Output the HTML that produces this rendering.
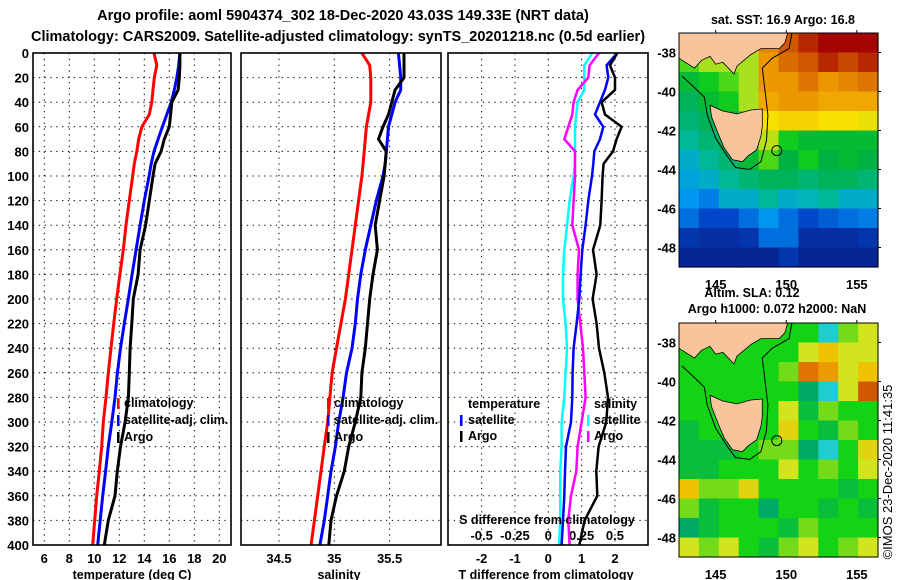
<!DOCTYPE html>
<html><head><meta charset="utf-8"><style>
html,body{margin:0;padding:0;background:#fff}
svg{display:block}
text{font-family:"Liberation Sans",sans-serif;font-weight:bold;fill:#000}
text.thin{font-weight:normal}
</style></head><body>
<svg id="c" width="900" height="580" viewBox="0 0 900 580" xmlns="http://www.w3.org/2000/svg">
<text x="343" y="20" font-size="14.5" text-anchor="middle">Argo profile: aoml 5904374_302 18-Dec-2020 43.03S 149.33E (NRT data)</text>
<text x="338" y="41" font-size="14.5" text-anchor="middle">Climatology: CARS2009. Satellite-adjusted climatology: synTS_20201218.nc (0.5d earlier)</text>
<g id="g"></g>
</svg>
<script>
const depths=[0,10,20,30,40,50,60,70,80,90,100,120,140,160,180,200,220,240,260,280,300,320,340,360,380,400];
const tClim=[14.78,15.0,14.8,14.7,14.6,14.4,13.8,13.55,13.4,13.2,13.07,12.8,12.54,12.32,12.05,11.79,11.55,11.34,11.12,10.94,10.72,10.59,10.4,10.19,10.03,9.87];
const tSat=[16.85,16.75,16.6,16.4,16.15,15.8,15.45,15.1,14.78,14.55,14.38,14.0,13.66,13.34,13.02,12.72,12.4,12.1,11.85,11.66,11.4,11.12,10.9,10.67,10.47,10.27];
const tArgo=[16.85,16.85,16.8,16.7,16.2,16.1,16.0,15.6,15.34,14.86,14.7,14.4,14.1,13.66,13.5,13.12,13.0,12.86,12.8,12.73,12.46,12.1,11.84,11.66,11.12,10.8];
const sClim=[35.25,35.32,35.33,35.33,35.33,35.31,35.29,35.28,35.27,35.26,35.25,35.22,35.19,35.16,35.13,35.1,35.06,35.02,34.98,34.96,34.94,34.91,34.88,34.85,34.82,34.79];
const sSat=[35.58,35.59,35.6,35.6,35.55,35.52,35.49,35.48,35.47,35.46,35.44,35.38,35.33,35.28,35.24,35.21,35.19,35.16,35.11,35.08,35.04,35.01,34.97,34.94,34.91,34.87];
const sArgo=[35.63,35.63,35.63,35.55,35.52,35.49,35.44,35.4,35.47,35.46,35.45,35.41,35.37,35.39,35.35,35.32,35.3,35.28,35.25,35.24,35.19,35.13,35.09,35.02,34.97,34.95];
const depthTicks=[0,20,40,60,80,100,120,140,160,180,200,220,240,260,280,300,320,340,360,380,400];
const tempTicks=[6,8,10,12,14,16,18,20];
const salTicks=[34.5,35,35.5];
const tdTicks=[-2,-1,0,1,2];
const sdTicks=[-0.5,-0.25,0,0.25,0.5];
const latTicks=[-38,-40,-42,-44,-46,-48];
const lonTicks=[145,150,155];
const sstGrid=[
[.6,.6,.65,.7,.82,.88,.95,1,1,1],
[.55,.6,.6,.6,.8,.85,.88,.95,.9,.95],
[.45,.5,.55,.6,.8,.8,.84,.8,.82,.84],
[.4,.45,.5,.6,.78,.8,.8,.78,.78,.78],
[.38,.4,.45,.55,.7,.72,.72,.7,.7,.68],
[.35,.38,.4,.5,.62,.5,.45,.45,.45,.45],
[.3,.35,.38,.45,.55,.42,.5,.42,.45,.42],
[.28,.3,.35,.38,.4,.4,.38,.4,.4,.38],
[.25,.22,.3,.3,.35,.3,.32,.35,.3,.3],
[.2,.15,.15,.2,.25,.2,.15,.18,.2,.22],
[.1,.08,.08,.1,.2,.2,.08,.08,.08,.1],
[.05,.05,.05,.05,.05,.1,.05,.05,.05,.05]];
const slaGrid=[
[.5,.5,.5,.5,.5,.5,.5,.3,.55,.6],
[.5,.5,.5,.5,.5,.5,.6,.7,.6,.6],
[.5,.5,.5,.5,.5,.55,.8,.75,.6,.7],
[.5,.5,.5,.5,.5,.5,.4,.3,.6,.85],
[.5,.5,.5,.5,.5,.6,.45,.55,.5,.5],
[.45,.5,.5,.5,.5,.65,.5,.45,.55,.5],
[.45,.45,.45,.5,.55,.55,.4,.3,.5,.65],
[.45,.45,.5,.5,.5,.6,.5,.55,.5,.6],
[.7,.55,.55,.65,.5,.5,.5,.5,.45,.5],
[.55,.45,.5,.5,.4,.5,.5,.45,.5,.45],
[.4,.45,.5,.5,.5,.45,.55,.5,.5,.5],
[.6,.55,.6,.5,.45,.55,.6,.5,.55,.6]];

const NS='http://www.w3.org/2000/svg';
const G=document.getElementById('g');
function el(tag,attrs,parent){const e=document.createElementNS(NS,tag);for(const k in attrs)e.setAttribute(k,attrs[k]);(parent||G).appendChild(e);return e;}
function txt(x,y,s,size,anchor,parent){const t=el('text',{x:x,y:y,'font-size':size,'text-anchor':anchor||'middle'},parent);t.textContent=s;return t;}

const Y0=53,Y1=545;
const yD=d=>Y0+d*(Y1-Y0)/400;
const xT=t=>44.3+(t-6)*12.5;
const xS=s=>334.3+(s-35)*110.6;
const xTD=t=>548.3+t*33.33;
const xSD=s=>548.3+s*133.3;

function panel(x0,x1,name,yLabels){
  const g=el('g',{});
  
  
  depthTicks.forEach(d=>{
    const l=el('line',{x1:x0,x2:x1,y1:yD(d),y2:yD(d),stroke:'#000','stroke-width':1,'stroke-dasharray':'1.3,4.5'},g);
    
    
    if(yLabels){const t=txt(29,yD(d)+5,String(d),13,'end',g);
      
      }
  });
  return g;
}
function vgrid(g,x){const l=el('line',{x1:x,x2:x,y1:Y0,y2:Y1,stroke:'#000','stroke-width':1,'stroke-dasharray':'1.3,4.5'},g);
  
  }
function frame(g,x0,x1){const r=el('rect',{x:x0,y:Y0,width:x1-x0,height:Y1-Y0,fill:'none',stroke:'#000','stroke-width':1.6},g);
  
  }
function curve(g,vals,fx,color,w,name){
  const pts=vals.map((v,i)=>fx(v).toFixed(1)+','+yD(depths[i]).toFixed(1)).join(' ');
  const p=el('polyline',{points:pts,fill:'none',stroke:color,'stroke-width':w,'stroke-linejoin':'miter'},g);
  
  
}
function legBar(g,x,y,color,name){const r=el('rect',{x:x,y:y-9,width:2.5,height:11,fill:color},g);
  
  }

let g1=panel(33,231,'temperature-panel',true);
tempTicks.forEach(t=>{vgrid(g1,xT(t));const s=txt(xT(t),563,String(t),13,'middle',g1);
  
  });
curve(g1,tClim,xT,'#f00',3,'temp-climatology-line');
curve(g1,tSat,xT,'#00f',3,'temp-satellite-line');
curve(g1,tArgo,xT,'#000',3,'temp-argo-line');
frame(g1,33,231);
let a=txt(132,579,'temperature (deg C)',12.5,'middle',g1);
legBar(g1,117,407,'#f00','legend-bar-climatology');legBar(g1,117,424,'#00f','legend-bar-satellite');legBar(g1,117,441,'#000','legend-bar-argo');
[['climatology',407],['satellite-adj. clim.',424],['Argo',441]].forEach(([s,y])=>{const t=txt(124,y,s,12.5,'start',g1);});

let g2=panel(241,441,'salinity-panel',false);
salTicks.forEach(t=>{vgrid(g2,xS(t));const s=txt(xS(t),563,String(t),13,'middle',g2);
  
  });
curve(g2,sClim,xS,'#f00',3,'sal-climatology-line');
curve(g2,sSat,xS,'#00f',3,'sal-satellite-line');
curve(g2,sArgo,xS,'#000',3,'sal-argo-line');
frame(g2,241,441);
a=txt(339,579,'salinity',12.5,'middle',g2);
legBar(g2,327,407,'#f00','legend-bar-climatology');legBar(g2,327,424,'#00f','legend-bar-satellite');legBar(g2,327,441,'#000','legend-bar-argo');
[['climatology',407],['satellite-adj. clim.',424],['Argo',441]].forEach(([s,y])=>{const t=txt(334,y,s,12.5,'start',g2);});

let g3=panel(448,648,'difference-panel',false);
tdTicks.forEach(t=>{vgrid(g3,xTD(t));const s=txt(xTD(t),563,String(t),13,'middle',g3);
  
  });
sdTicks.forEach(t=>{const s=txt(xSD(t),540,String(t),13,'middle',g3);
  
  });
const dSatS=sSat.map((v,i)=>v-sClim[i]);
const dArgoS=sArgo.map((v,i)=>v-sClim[i]);
const dSatT=tSat.map((v,i)=>v-tClim[i]);
const dArgoT=tArgo.map((v,i)=>v-tClim[i]);
curve(g3,dSatS,xSD,'#0ff',2.5,'sdiff-satellite-line');
curve(g3,dArgoS,xSD,'#f0f',2.5,'sdiff-argo-line');
curve(g3,dSatT,xTD,'#00f',2.5,'tdiff-satellite-line');
curve(g3,dArgoT,xTD,'#000',2.5,'tdiff-argo-line');
frame(g3,448,648);
a=txt(546,579,'T difference from climatology',12.5,'middle',g3);
a=txt(547,524,'S difference from climatology',12.5,'middle',g3);
a=txt(468,408,'temperature',12.5,'start',g3);
a=txt(594,408,'salinity',12.5,'start',g3);
legBar(g3,460,424,'#00f','legend-bar-tsat');legBar(g3,460,440,'#000','legend-bar-targo');
legBar(g3,587,424,'#0ff','legend-bar-ssat');legBar(g3,587,440,'#f0f','legend-bar-sargo');
[['satellite',468,424],['Argo',468,440],['satellite',594,424],['Argo',594,440]].forEach(([s,x,y])=>{const t=txt(x,y,s,12.5,'start',g3);});

const MX0=679,MX1=878,LON0=142.4,LON1=156.5,LAT0=-37,LAT1=-49;
function lerpColor(stops,v){
  for(let i=0;i<stops.length-1;i++){const [a,ca]=stops[i],[b,cb]=stops[i+1];
    if(v<=b||i==stops.length-2){const f=Math.max(0,Math.min(1,(v-a)/(b-a)));
      const c=ca.map((x,k)=>Math.round(x+(cb[k]-x)*f));return 'rgb('+c.join(',')+')';}}
}
const sstStops=[[0,[10,20,120]],[0.15,[0,70,200]],[0.25,[0,150,240]],[0.33,[0,185,175]],[0.42,[0,176,64]],[0.52,[20,210,20]],[0.6,[170,225,30]],[0.7,[248,224,0]],[0.78,[240,168,0]],[0.86,[215,100,0]],[1,[165,5,0]]];
const slaStops=[[0.3,[30,205,205]],[0.4,[0,170,100]],[0.5,[20,210,20]],[0.6,[210,228,30]],[0.7,[240,195,0]],[0.8,[225,115,0]],[0.9,[190,60,0]]];
const land1=[[142.4,-37],[150.1,-37],[149.9,-37.5],[149.5,-37.8],[148.2,-37.8],[147.5,-38.1],[146.5,-38.7],[146.3,-39.1],[145.5,-38.5],[145,-38.6],[144.6,-38.2],[144,-38.4],[143.5,-38.8],[142.4,-38.3]];
const tas=[[144.6,-40.7],[145.5,-41.0],[146.5,-41.15],[147.5,-40.95],[148.3,-40.9],[148.3,-41.8],[148.2,-42.3],[147.9,-43.0],[147.3,-43.3],[146.9,-43.6],[146.2,-43.5],[145.6,-42.9],[145.2,-42.2],[144.7,-41.3]];
const shelf=[[142.6,-39.2],[143.5,-39.8],[144.2,-40.3],[144.4,-41.2],[145,-42.4],[145.8,-43.3],[146.4,-43.9],[147.4,-44.0],[148.2,-43.6],[148.6,-42.5],[148.7,-41.2],[148.5,-40],[148.3,-38.8],[149,-38.3],[150.2,-37.8],[150.4,-37]];
function drawMap(y0,y1,grid,stops,name){
  const g=el('g',{});
  
  
  const px=lon=>MX0+(lon-LON0)*(MX1-MX0)/(LON1-LON0);
  const py=lat=>y0+(lat-LAT0)*(y1-y0)/(LAT1-LAT0);
  const rows=grid.length,cols=grid[0].length,cw=(MX1-MX0)/cols,ch=(y1-y0)/rows;
  grid.forEach((row,r)=>row.forEach((v,c)=>{
    const rc=el('rect',{x:MX0+c*cw,y:y0+r*ch,width:cw+0.6,height:ch+0.6,fill:lerpColor(stops,v)},g);
    
    
  }));
  const poly=p=>p.map(q=>px(q[0]).toFixed(1)+','+py(q[1]).toFixed(1)).join(' ');
  let e=el('polyline',{points:poly(shelf),fill:'none',stroke:'#000','stroke-width':1},g);
  
  e=el('polygon',{points:poly(land1),fill:'#f8c49c',stroke:'#000','stroke-width':0.8},g);
  
  e=el('polygon',{points:poly(tas),fill:'#f8c49c',stroke:'#000','stroke-width':0.8},g);
  
  e=el('circle',{cx:px(149.33),cy:py(-43.03),r:5,fill:'none',stroke:'#000','stroke-width':1},g);
  
  e=el('rect',{x:MX0,y:y0,width:MX1-MX0,height:y1-y0,fill:'none',stroke:'#000','stroke-width':1},g);
  
  latTicks.forEach(l=>{const t=txt(676,py(l)+5,String(l),13,'end',g);
    
    el('line',{x1:MX1,x2:MX1+3,y1:py(l),y2:py(l),stroke:'#000'},g);});
  lonTicks.forEach(l=>{const t=txt(px(l),y1+22,String(l),13,'middle',g);
    
    el('line',{x1:px(l),x2:px(l),y1:y0,y2:y0-3,stroke:'#000'},g);});
}
drawMap(33,267,sstGrid,sstStops,'sst-map');
drawMap(323,557,slaGrid,slaStops,'sla-map');
a=txt(783,24,'sat. SST: 16.9 Argo: 16.8',12.5,'middle');
a=txt(752,297,'Altim. SLA: 0.12',12.5,'middle');
a=txt(777,313,'Argo h1000: 0.072 h2000: NaN',12.5,'middle');
a=txt(0,0,'©IMOS 23-Dec-2020 11:41:35',13,'middle');a.setAttribute('transform','translate(892,472) rotate(-90)');
a.setAttribute('class','thin');

</script>
</body></html>
